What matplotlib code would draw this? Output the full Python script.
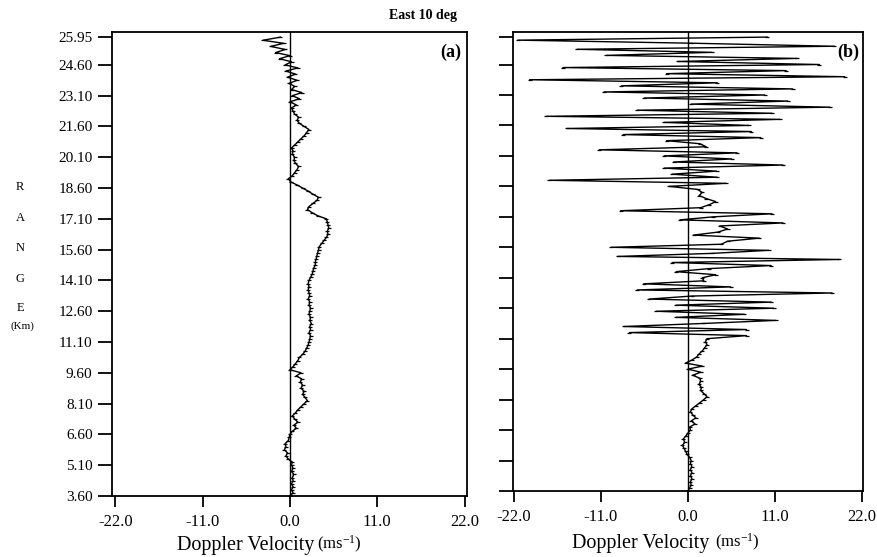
import numpy as np
import matplotlib
matplotlib.use("Agg")
import matplotlib.pyplot as plt
from matplotlib.transforms import IdentityTransform

plt.rcParams["font.family"] = ["Liberation Serif", "DejaVu Serif"]
plt.rcParams["mathtext.fontset"] = "custom"
plt.rcParams["mathtext.rm"] = "Liberation Serif"
plt.rcParams["mathtext.it"] = "Liberation Serif:italic"

# range gates (km), 0.15 km spacing from 3.60 to 25.95
range_km = np.round(np.arange(3.60, 25.951, 0.15), 2)

# (a) Doppler velocity (m/s), bottom gate to top gate
vel_a = [0.0, 0.4, 0.2, 0.4, 0.2, 0.4, 0.3, 0.5, 0.2, 0.4, 0.2,
         0.3, -0.2, -0.5, -0.3, -0.7, -0.5, -0.6, -0.2, -0.1, 0.0,
         0.3, 0.8, 0.5, 1.0, 0.6, 0.3, 0.7, 1.0, 1.4, 1.8,
         2.2, 1.9, 1.6, 1.8, 1.4, 1.6, 1.3, 1.5, 0.8, 1.4,
         0.0, 0.4, 0.7, 1.0, 1.2, 1.6, 1.9, 2.1, 2.3, 2.4,
         2.5, 2.6, 2.4, 2.6, 2.5, 2.7, 2.5, 2.6, 2.4, 2.5,
         2.6, 2.4, 2.5, 2.3, 2.5, 2.4, 2.3, 2.4, 2.3, 2.4,
         2.6, 2.8, 2.9, 3.0, 3.2, 3.2, 3.3, 3.4, 3.5, 3.6,
         3.7, 4.0, 4.3, 4.6, 4.8, 4.7, 4.9, 4.8, 4.7, 4.6,
         3.5, 2.8, 2.2, 2.4, 2.9, 3.4, 3.6, 2.9, 2.3, 1.6,
         0.9, 0.1, -0.2, 0.3, 0.6, 0.9, 1.1, 0.7, 0.5, 0.6,
         0.3, 0.4, 0.2, 0.6, 1.0, 1.4, 1.8, 2.1, 2.4, 1.8,
         1.2, 0.9, 1.1, 0.6, 0.4, 0.2, 0.8, 0.0, 1.2, 0.3,
         1.5, 0.2, 0.6, -0.1, 0.9, -0.3, 0.7, -0.5, 1.0, -0.6,
         0.2, -1.3, 0.0, -1.8, -0.6, -2.4, -0.8, -3.4, -1.2]

# (b) Doppler velocity (m/s), bottom gate to top gate
vel_b = [0.0, 0.2, 0.4, 0.3, 0.5, 0.3, 0.5, 0.3, 0.5, 0.3, 0.4,
         0.2, -0.1, -0.3, -0.5, -0.7, -0.4, -0.6, -0.3, 0.0, 0.3,
         0.2, 0.9, 0.4, 1.0, 0.6, 0.3, 0.5, 1.0, 1.5, 2.0,
         2.4, 2.0, 1.6, 1.7, 1.4, 1.6, 1.5, 0.6, 1.6, 0.0,
         1.8, -0.3, 0.5, 1.1, 1.4, 1.8, 2.1, 2.4, 2.2, 2.4,
         7.4, -7.4, 7.4, -8.1, 2.0, 11.1, -1.5, 7.1, -4.0, 10.8,
         -1.5, 10.5, -4.9, 0.5, 18.2, -6.4, 5.4, -5.6, 2.0, 1.8,
         3.5, -1.5, 2.6, 10.5, -2.0, 19.1, -8.9, 3.0, 10.2, -9.7,
         4.2, 5.0, 9.0, 0.7, 3.8, 5.0, 4.0, 12.0, -1.0, 3.2,
         10.6, -8.5, 1.6, 2.7, 3.5, 2.3, 1.4, 1.8, 1.2, -2.4,
         4.8, -17.5, 3.7, -2.0, 3.6, -3.0, 12.0, -1.8, 5.5, -3.0,
         6.2, -11.2, 2.3, 1.5, -2.7, 9.2, -8.2, 8.0, -15.3, 7.7,
         -3.0, 11.6, -17.9, 10.6, -6.4, 17.9, 0.4, 12.6, -5.5, 9.7,
         -10.6, 13.2, -8.4, 3.7, -20.0, 19.8, -2.7, 12.4, -15.8, 16.6,
         -1.3, 13.8, -10.3, 3.0, -14.0, 18.5, 0.4, -21.5, 10.0]

y_ticks = [3.60, 5.10, 6.60, 8.10, 9.60, 11.10, 12.60, 14.10, 15.60,
           17.10, 18.60, 20.10, 21.60, 23.10, 24.60, 25.95]
x_ticks = [-22.0, -11.0, 0.0, 11.0, 22.0]


def style_axis(ax, xlim, show_ylabels):
    ax.set_xlim(xlim)
    ax.set_ylim(3.60, 26.2)
    ax.set_xticks(x_ticks)
    ax.set_xticklabels(["%.1f" % t for t in x_ticks], fontsize=12)
    ax.set_yticks(y_ticks)
    if show_ylabels:
        ax.set_yticklabels(["%.2f" % t for t in y_ticks], fontsize=11)
    else:
        ax.set_yticklabels([])
    ax.tick_params(axis="y", direction="out", length=10, width=1.3, pad=4)
    ax.tick_params(axis="x", direction="out", length=8, width=1.3, pad=5)
    for s in ax.spines.values():
        s.set_linewidth(1.3)
    ax.axvline(0.0, color="black", lw=1.0)


fig = plt.figure(figsize=(8.78, 5.57), dpi=100)
ax_a = fig.add_axes([0.1276, 0.1095, 0.4043, 0.833])
ax_b = fig.add_axes([0.5843, 0.1185, 0.3986, 0.824])

ax_a.plot(vel_a, range_km, color="black", lw=1.0,
          marker="_", markersize=3.5, markeredgewidth=0.9)
ax_b.plot(vel_b, range_km, color="black", lw=1.0,
          marker="_", markersize=3.5, markeredgewidth=0.9)

style_axis(ax_a, (-22.4, 22.3), True)
style_axis(ax_b, (-22.1, 22.1), False)

ax_a.text(0.985, 0.975, "(a)", transform=ax_a.transAxes, ha="right", va="top",
          fontsize=13, fontweight="bold")
ax_b.text(0.99, 0.975, "(b)", transform=ax_b.transAxes, ha="right", va="top",
          fontsize=13, fontweight="bold")

fig.text(0.482, 0.972, "East 10 deg", ha="center", va="center",
         fontsize=10, fontweight="bold")

# x labels: main text plus a smaller unit right after it
lbl_a = fig.text(177, 7, "Doppler Velocity", fontsize=14.5, ha="left",
                 va="baseline", transform=IdentityTransform())
lbl_b = fig.text(572, 9, "Doppler Velocity", fontsize=14.5, ha="left",
                 va="baseline", transform=IdentityTransform())
for lbl, gap in [(lbl_a, 2), (lbl_b, 4)]:
    ax_a.annotate("(ms$^{-1}$)", xy=(1, 0), xycoords=lbl, xytext=(gap, 0),
                  textcoords="offset points", ha="left", va="bottom", fontsize=12,
                  annotation_clip=False)

# stacked RANGE label
for ch, yy in [("R", 187), ("A", 218), ("N", 248), ("G", 279), ("E", 308)]:
    fig.text(20 / 878, 1 - yy / 557, ch, ha="center", va="center", fontsize=9)
fig.text(22 / 878, 1 - 326 / 557, "(Km)", ha="center", va="center", fontsize=8)

fig.savefig("out.png", dpi=100)
